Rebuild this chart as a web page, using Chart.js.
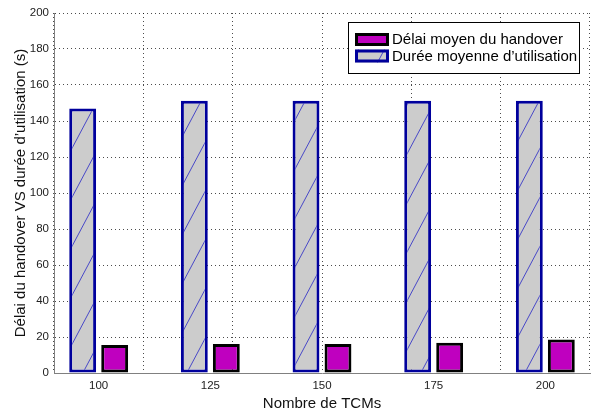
<!DOCTYPE html>
<html>
<head>
<meta charset="utf-8">
<script src="https://cdn.jsdelivr.net/npm/chart.js@4.4.0/dist/chart.umd.min.js"></script>
<style>
  body { margin: 0; background: #fff; }
  #bar { display: block; }
</style>
</head>
<body>
<canvas id="bar" width="592" height="412"></canvas>
<script>

// data
const tcms = [100, 125, 150, 175, 200];
const duree_util = [147, 151.2, 151.2, 151.2, 151.2];
const delai_handover = [15.6, 16.1, 16.1, 16.8, 18.6];

const grid_ticks = [100, 120, 140, 160, 180, 200];
const y_ticks = [0, 20, 40, 60, 80, 100, 120, 140, 160, 180, 200];

const FONT = "'Liberation Sans', Arial, sans-serif";
const GRID = 'rgba(0,0,0,0.7)';


// hatch pattern for the grey bars
function make_hatch(){
  const w = 26, h = 49;
  const c = document.createElement('canvas');
  c.width = w; c.height = h;
  const cx = c.getContext('2d');
  cx.fillStyle = '#cccccc';
  cx.fillRect(0, 0, w, h);
  cx.strokeStyle = '#4848c8';
  cx.lineWidth = 1;
  cx.beginPath();
  cx.moveTo(0, h);
  cx.lineTo(w, 0);
  cx.moveTo(-w, h);
  cx.lineTo(0, 0);
  cx.moveTo(w, h);
  cx.lineTo(2 * w, 0);
  cx.stroke();
  const p = document.getElementById('bar').getContext('2d').createPattern(c, 'repeat');
  p.setTransform(new DOMMatrix().translate(0, -10));
  return p;
}

const hatch = make_hatch();


// legend box drawn inside the plot, top right
const box_legend = {
  id: 'box_legend',
  afterDraw(chart){
    const ctx = chart.ctx;
    const x0 = 348.5, y0 = 22.5, w = 231, h = 51;
    ctx.save();
    ctx.fillStyle = '#fff';
    ctx.fillRect(x0, y0, w, h);
    ctx.strokeStyle = '#000';
    ctx.lineWidth = 1;
    ctx.strokeRect(x0, y0, w, h);
    const order = [1, 0];
    order.forEach(function(di, row){
      const ds = chart.data.datasets[di];
      const sy = y0 + 10.5 + row * 16.5;
      ctx.fillStyle = ds.backgroundColor;
      ctx.fillRect(355, sy, 34, 13);
      ctx.strokeStyle = ds.borderColor;
      ctx.lineWidth = 3;
      ctx.strokeRect(356.5, sy + 1.5, 31, 10);
      ctx.fillStyle = '#000';
      ctx.font = '15px ' + FONT;
      ctx.textBaseline = 'middle';
      ctx.fillText(ds.label, 392, sy + 7);
    });
    ctx.restore();
  }
};


const data = {
  datasets: [
    {
      label: 'Durée moyenne d’utilisation',
      data: tcms.map((t, i) => ({x: t, y: duree_util[i]})),
      backgroundColor: hatch,
      borderColor: '#00009c',
      borderWidth: 3,
      borderSkipped: false,
      xAxisID: 'xl',
    },
    {
      label: 'Délai moyen du handover',
      data: tcms.map((t, i) => ({x: t, y: delai_handover[i]})),
      backgroundColor: '#bf00bf',
      borderColor: '#000000',
      borderWidth: 3,
      borderSkipped: false,
      xAxisID: 'xl',
    },
  ]
};


const config = {
  type: 'bar',
  data: data,
  plugins: [box_legend],
  options: {
    responsive: false,
    animation: false,
    categoryPercentage: 0.573,
    barPercentage: 0.84,
    layout: { padding: { top: 13, right: 2, left: 0, bottom: 0 } },
    plugins: {
      legend: { display: false },
      tooltip: { enabled: false },
    },
    scales: {
      // grid only axis (ticks every 20)
      x: {
        type: 'linear',
        position: 'bottom',
        min: 90,
        max: 210,
        offset: false,
        afterBuildTicks: (s) => { s.ticks = grid_ticks.map(v => ({value: v})); },
        afterFit: (s) => { s.height = 0; },
        grid: { drawTicks: false, color: GRID },
        border: { display: false, dash: [1, 3] },
        ticks: { display: false },
      },
      // labels axis, bars sit on this one
      xl: {
        type: 'linear',
        position: 'bottom',
        min: 90,
        max: 210,
        offset: false,
        afterBuildTicks: (s) => { s.ticks = tcms.map(v => ({value: v})); },
        afterFit: (s) => { s.height = 39; },
        grid: { display: false, drawTicks: false },
        border: { display: true, color: '#808080', width: 1 },
        ticks: {
          autoSkip: false,
          maxRotation: 0,
          padding: 6,
          color: '#222',
          font: { family: FONT, size: 11.5 },
        },
        title: {
          display: true,
          text: 'Nombre de TCMs',
          color: '#111',
          font: { family: FONT, size: 15, lineHeight: 1.1 },
          padding: 0,
        },
      },
      y: {
        min: 0,
        max: 200,
        afterBuildTicks: (s) => { s.ticks = y_ticks.map(v => ({value: v})); },
        afterFit: (s) => { s.width = 54; },
        grid: { drawTicks: false, color: GRID },
        border: { color: '#808080', width: 1, dash: [1, 3] },
        ticks: {
          padding: 5,
          color: '#222',
          font: { family: FONT, size: 11.5 },
        },
        title: {
          display: true,
          text: 'Délai du handover VS durée d’utilisation (s)',
          color: '#111',
          font: { family: FONT, size: 15, lineHeight: 1.2 },
          padding: { top: 12, bottom: 0 },
        },
      },
    },
  },
};

const chart = new Chart('bar', config);

</script>
</body>
</html>
